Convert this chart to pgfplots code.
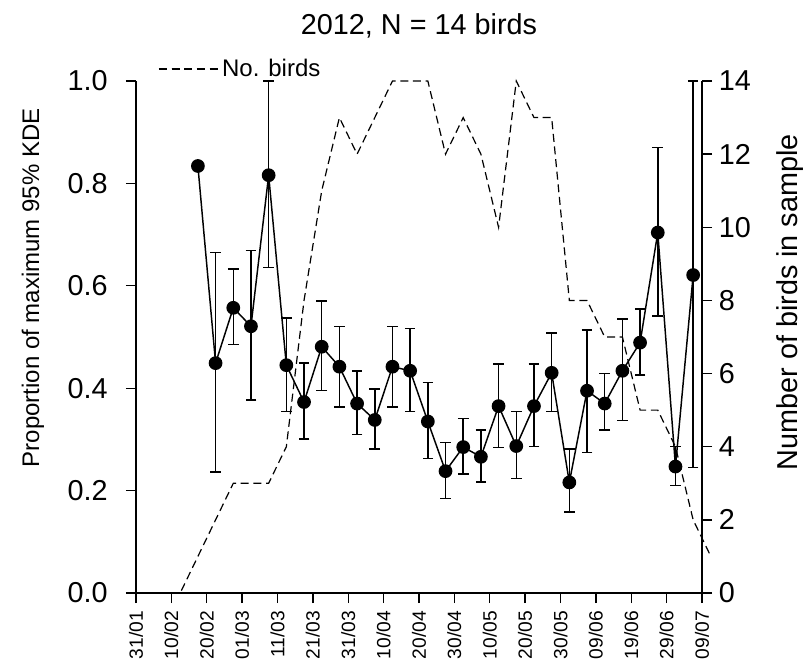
\documentclass[border=0pt]{standalone}
\usepackage{fontspec}
\setmainfont{Liberation Sans}
\usepackage{pgfplots}
\pgfplotsset{compat=1.18}
\usepackage{pgfplotstable}

\pgfplotstableread{
x y ep em
17.5 0.834 0 0
22.5 0.449 0.216 0.213
27.5 0.557 0.076 0.072
32.5 0.521 0.148 0.144
37.5 0.816 0.184 0.180
42.5 0.445 0.092 0.091
47.5 0.373 0.076 0.072
52.5 0.481 0.089 0.086
57.5 0.442 0.078 0.079
62.5 0.370 0.064 0.060
67.5 0.338 0.060 0.057
72.5 0.442 0.078 0.079
77.5 0.434 0.083 0.080
82.5 0.335 0.076 0.072
87.5 0.238 0.056 0.053
92.5 0.285 0.056 0.053
97.5 0.266 0.052 0.049
102.5 0.365 0.082 0.081
107.5 0.287 0.067 0.063
112.5 0.365 0.082 0.079
117.5 0.430 0.078 0.076
122.5 0.216 0.065 0.058
127.5 0.395 0.119 0.121
132.5 0.370 0.059 0.052
137.5 0.434 0.101 0.097
142.5 0.489 0.066 0.063
147.5 0.704 0.166 0.163
152.5 0.247 0.039 0.037
157.5 0.621 0.379 0.376
}\kde

\pgfplotstableread{
x n
2.5 0
7.5 0
12.5 0
17.5 1
22.5 2
27.5 3
32.5 3
37.5 3
42.5 4
47.5 8
52.5 11
57.5 13
62.5 12
67.5 13
72.5 14
77.5 14
82.5 14
87.5 12
92.5 13
97.5 12
102.5 10
107.5 14
112.5 13
117.5 13
122.5 8
127.5 8
132.5 7
137.5 7
142.5 5
147.5 5
152.5 4
157.5 2
162.5 1
}\birds

\newcommand{\labf}{\fontsize{18}{21.6}\selectfont}
\newcommand{\bigf}{\fontsize{21.6}{26}\selectfont}
\newcommand{\smf}{\fontsize{14.4}{17}\selectfont}

\pgfplotsset{
  common/.style={
    scale only axis, width=424.5pt, height=384pt,
    xmin=0, xmax=160,
    clip=false,
    tick align=outside,
    major tick length=7.5pt,
    tick style={line width=1pt, black},
    axis line style={-, line width=1pt, black},
    tick label style={font=\bigf},
  }
}

\begin{document}
\begin{tikzpicture}
\useasboundingbox (-102pt,-51.75pt) rectangle (504pt,444.75pt);
\begin{axis}[common,
  ymin=0, ymax=1,
  axis x line*=bottom, axis y line*=left,
  xtick={0,10,...,160},
  xticklabels={31/01,10/02,20/02,01/03,11/03,21/03,31/03,10/04,20/04,30/04,10/05,20/05,30/05,09/06,19/06,29/06,09/07},
  xticklabel style={rotate=90, anchor=east, inner sep=0pt, font=\smf},
  xticklabel shift=6pt,
  ytick={0,0.2,0.4,0.6,0.8,1.0},
  yticklabels={0.0,0.2,0.4,0.6,0.8,1.0},
  yticklabel style={anchor=east, inner sep=0pt},
  yticklabel shift=13.5pt,
  ylabel={Proportion of maximum 95\% KDE},
  ylabel style={at={(axis description cs:-0.182,0.596)}, anchor=center, font=\labf},
  every axis title/.style={at={(0.5,1)}, anchor=base, yshift=35.25pt, font=\bigf},
  title={2012, N = 14 birds},
]
\draw[line width=1pt] (axis cs:-2.8,0) -- (axis cs:162.9,0);
\addplot[black, line width=1.1pt, mark=*, mark size=4.6pt,
  error bars/.cd, y dir=both, y explicit,
  error bar style={line width=1.1pt, black},
  error mark options={rotate=90, line width=1.1pt, mark size=4pt, black}]
  table[x=x, y=y, y error plus=ep, y error minus=em] {\kde};
\end{axis}
\begin{axis}[common,
  ymin=0, ymax=14,
  axis x line=none, axis y line*=right,
  ytick={0,2,4,6,8,10,12,14},
  yticklabels={0,2,4,6,8,10,12,14},
  yticklabel style={anchor=west, inner sep=0pt},
  yticklabel shift=5pt,
  ylabel={Number of birds in sample},
  ylabel style={at={(axis description cs:1.1555,0.568)}, anchor=center, font=\bigf},
  legend style={at={(axis description cs:0.0389,1.0234)}, anchor=west, draw=none, fill=none, inner sep=0pt, font=\labf},
  legend cell align=left,
  legend image code/.code={\draw[#1] (0pt,0pt) -- (33pt,0pt); \path (0pt,0pt) -- (45pt,0pt);},
]
\addplot[black, line width=0.9pt, dash pattern=on 6pt off 3.5pt] table[x=x, y=n] {\birds};
\addlegendentry{No. birds}
\end{axis}
\end{tikzpicture}
\end{document}
